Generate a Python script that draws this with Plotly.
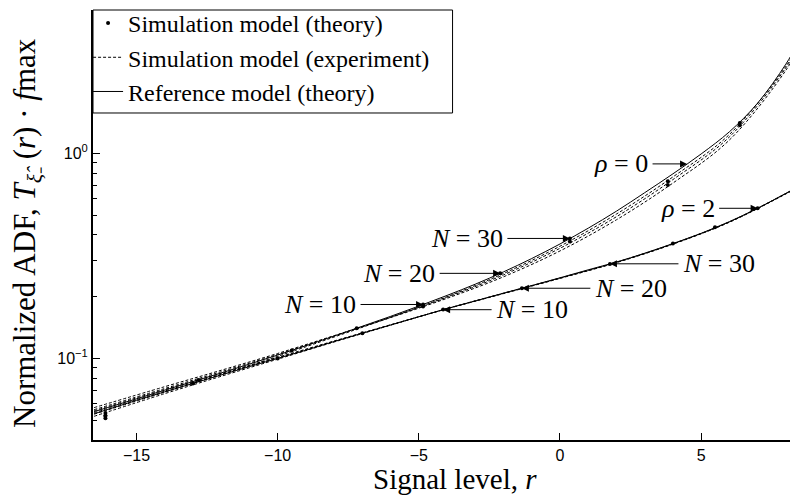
import numpy as np
import plotly.graph_objects as go

# ---------------- data ----------------
r_ref = [-16.5, -15, -14, -13, -12, -11, -10, -9, -8, -7, -6, -5, -4, -3, -2, -1,
         0, 1, 2, 3, 4, 5, 6, 7, 8, 8.5]
ref_rho0 = [0.0550, 0.0635, 0.0700, 0.0771, 0.0849, 0.0938, 0.1038, 0.1153, 0.1285,
            0.1435, 0.1603, 0.1799, 0.2028, 0.2301, 0.2642, 0.3069, 0.3614, 0.4315,
            0.5224, 0.6427, 0.7943, 0.9931, 1.2735, 1.7579, 2.7230, 3.5890]
ref_rho2 = [0.0537, 0.0624, 0.0687, 0.0755, 0.0830, 0.0912, 0.1000, 0.1096, 0.1208,
            0.1327, 0.1455, 0.1596, 0.1750, 0.1905, 0.2080, 0.2265, 0.2472, 0.2704,
            0.2951, 0.3258, 0.3631, 0.4074, 0.4645, 0.5395, 0.6383, 0.6950]

r_sim = [-16.5, -14, -12, -10, -8, -6, -4, -2, 0, 2, 4, 6, 8, 8.5]
exp_rho0_N10 = [0.05754, 0.07278, 0.0875, 0.1057, 0.1291, 0.1581, 0.1963, 0.2500, 0.3342,
                0.4742, 0.7161, 1.1614, 2.5400, 3.3700]
exp_rho0_N20 = [0.05623, 0.07129, 0.0861, 0.1045, 0.1285, 0.1589, 0.1986, 0.2553, 0.3443,
                0.4909, 0.7447, 1.2023, 2.6100, 3.4500]
exp_rho0_N30 = [0.05346, 0.06839, 0.08337, 0.1023, 0.1271, 0.1585, 0.2000, 0.2594, 0.3524,
                0.5058, 0.7674, 1.2360, 2.6600, 3.5100]
exp_rho2_N10 = [0.0555, 0.0705, 0.0845, 0.1012, 0.1216, 0.1459, 0.1746, 0.2070, 0.2455,
                0.2931, 0.3606, 0.4613, 0.6339, 0.6902]
exp_rho2_N20 = [0.0543, 0.0693, 0.0836, 0.1005, 0.1211, 0.1455, 0.1746, 0.2075, 0.2460,
                0.2938, 0.3614, 0.4624, 0.6353, 0.6918]
exp_rho2_N30 = [0.0522, 0.0673, 0.0818, 0.0991, 0.1202, 0.1452, 0.1750, 0.2080, 0.2466,
                0.2944, 0.3622, 0.4634, 0.6368, 0.6934]

r_dot_rho0 = [-16.1, -16.1, -12.8, -9.5, -7.2, -4.85, -4.85, -2.12, 0.35, 0.35,
              3.82, 3.82, 6.37, 6.37, 8.4]
dot_rho0 = [0.0542, 0.0525, 0.0785, 0.1094, 0.1403, 0.1832, 0.1790, 0.2600, 0.3846,
            0.3720, 0.7300, 0.7000, 1.4060, 1.3700, 3.3000]
r_dot_rho2 = [-16.1, -16.1, -13, -10, -7, -4.14, -1.35, 1.77, 4, 5.49, 7.0, 8.4]
dot_rho2 = [0.0525, 0.0510, 0.0755, 0.1000, 0.1327, 0.1730, 0.2198, 0.2884, 0.3631,
            0.4365, 0.5395, 0.6840]

x_ticks = [-15, -10, -5, 0, 5]
x_ticktext = ["\u221215", "\u221210", "\u22125", "0", "5"]
y_ticks = [0.1, 1]
y_ticktext = ["10<sup>\u22121</sup>", "10<sup>0</sup>"]
y_minor = [0.04, 0.05, 0.06, 0.07, 0.08, 0.09, 0.2, 0.3, 0.4, 0.5, 0.6, 0.7, 0.8, 0.9,
           2, 3, 4, 5]

# annotations: (label, curve, r position of arrow tip, text offset px)
ann_specs = [
    ("<i>\u03c1</i> = 0", "rho0", 4.5, -66),
    ("<i>\u03c1</i> = 2", "rho2", 7.0, -70),
    ("<i>N</i> = 30", "rho0", 0.35, -103),
    ("<i>N</i> = 20", "rho0", -2.12, -101),
    ("<i>N</i> = 10", "rho0", -4.85, -103),
    ("<i>N</i> = 30", "rho2", 1.77, 109),
    ("<i>N</i> = 20", "rho2", -1.35, 109),
    ("<i>N</i> = 10", "rho2", -4.14, 89),
]

SERIF = "Liberation Serif"
SANS = "Liberation Sans"

fig = go.Figure()

# reference model (solid)
for i, ys in enumerate([ref_rho0, ref_rho2]):
    fig.add_trace(go.Scatter(x=r_ref, y=ys, mode="lines",
                             line=dict(color="black", width=1, shape="spline"),
                             name="Reference model (theory)", legendgroup="ref",
                             showlegend=(i == 0), legendrank=3))
# simulation experiment (dashed)
for i, ys in enumerate([exp_rho0_N10, exp_rho0_N20, exp_rho0_N30,
                        exp_rho2_N10, exp_rho2_N20, exp_rho2_N30]):
    fig.add_trace(go.Scatter(x=r_sim, y=ys, mode="lines",
                             line=dict(color="black", width=1, dash="3px,2px", shape="spline"),
                             name="Simulation model (experiment)", legendgroup="exp",
                             showlegend=(i == 0), legendrank=2))
# simulation theory (dots)
for i, (xs, ys) in enumerate([(r_dot_rho0, dot_rho0), (r_dot_rho2, dot_rho2)]):
    fig.add_trace(go.Scatter(x=xs, y=ys, mode="markers",
                             marker=dict(color="black", size=4),
                             name="Simulation model (theory)", legendgroup="dot",
                             showlegend=(i == 0), legendrank=1))

curves = {"rho0": ref_rho0, "rho2": ref_rho2}
for label, cname, rtip, ax in ann_specs:
    ylog = float(np.interp(rtip, r_ref, np.log10(curves[cname])))
    fig.add_annotation(x=rtip, y=ylog, xref="x", yref="y", text=label,
                       showarrow=True, arrowhead=2, arrowsize=1.4, arrowwidth=1,
                       arrowcolor="black", ax=ax, ay=0, borderpad=4,
                       font=dict(family=SERIF, size=26, color="black"))

# axis titles
fig.add_annotation(xref="paper", yref="paper", x=0.5135, y=0, yshift=-39,
                   xanchor="center", yanchor="middle", showarrow=False,
                   text="Signal level, <i>r</i>",
                   font=dict(family=SERIF, size=29, color="black"))
fig.add_annotation(xref="paper", yref="paper", x=0, y=0.5, xshift=-66, yshift=-8,
                   xanchor="center", yanchor="middle", showarrow=False, textangle=-90,
                   text="Normalized ADF, <i>T</i><sub><i>\u03be\u0302</i>\u208b</sub> (<i>r</i>) \u00b7 <i>f</i>max",
                   font=dict(family=SERIF, size=31, color="black"))

# legend frame
fig.add_shape(type="rect", xref="paper", yref="paper", x0=0, x1=0.5100, y0=0.7605, y1=1.0,
              line=dict(color="black", width=1), fillcolor="white", layer="above")

fig.update_layout(
    width=790, height=488,
    margin=dict(l=85, r=0, t=2, b=56, autoexpand=False),
    paper_bgcolor="white", plot_bgcolor="white",
    showlegend=True,
    legend=dict(x=-0.007, y=1.021, xref="paper", yref="paper",
                xanchor="left", yanchor="top", bgcolor="rgba(0,0,0,0)",
                borderwidth=0, itemwidth=30, tracegroupgap=0,
                font=dict(family=SERIF, size=24, color="black")),
    xaxis=dict(range=[-16.54, 8.43], tickvals=x_ticks, ticktext=x_ticktext,
               ticks="inside", ticklen=7, tickcolor="black", showline=True,
               linecolor="black", linewidth=2, showgrid=False, zeroline=False,
               automargin=False,
               tickfont=dict(family=SANS, size=16, color="black")),
    yaxis=dict(type="log", range=[-1.398, 0.699], tickvals=y_ticks, ticktext=y_ticktext,
               ticks="inside", ticklen=7, tickcolor="black", showline=True,
               linecolor="black", linewidth=2, showgrid=False, zeroline=False,
               automargin=False,
               minor=dict(tickvals=y_minor, ticks="inside", ticklen=4, tickcolor="black",
                          showgrid=False),
               tickfont=dict(family=SANS, size=16, color="black")),
)

fig.write_html("out.html")
